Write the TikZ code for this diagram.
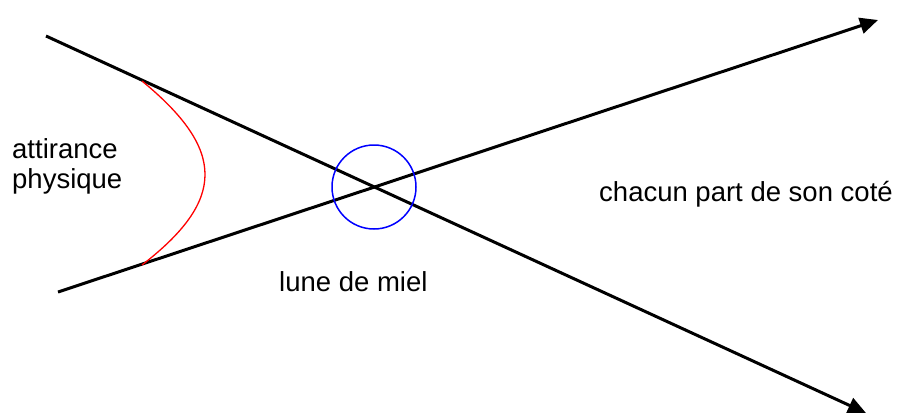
\documentclass[tikz,border=0pt]{standalone}
\usepackage{fontspec}
\setmainfont{Liberation Sans}
\usetikzlibrary{arrows.meta}
\newcommand{\pLabelFont}{\fontsize{27.5}{30}\selectfont}

\begin{document}
\begin{tikzpicture}[x=1pt,y=-1pt,
  pathline/.style={line width=3pt},
  pathlabel/.style={anchor=base west, inner sep=0pt, font=\pLabelFont}]
\useasboundingbox (0,0) rectangle (901,412);
\coordinate (herStart) at (46,36);
\coordinate (herEnd) at (866,413);
\coordinate (hisStart) at (58,292);
\coordinate (hisEnd) at (878,20);
\coordinate (pullTop) at (142,81);
\coordinate (pullBottom) at (142,265);
\draw[pathline, -{Triangle[length=18pt,width=16pt]}] (herStart) -- (herEnd);
\draw[pathline, -{Triangle[length=18pt,width=16pt]}] (hisStart) -- (hisEnd);
\draw[red, line width=1.3pt] (pullTop) .. controls (226,150) and (226,200) .. (pullBottom);
\node[draw=blue, line width=1.5pt, circle, minimum size=84pt, inner sep=0pt] (honeymoon) at (374,187) {};
\node[pathlabel] (attraction) at (12,158) {attirance};
\node[pathlabel] (physical) at (12,188) {physique};
\node[pathlabel] (moonLabel) at (279,291) {lune de miel};
\node[pathlabel] (apartLabel) at (599,201) {chacun part de son coté};
\end{tikzpicture}
\end{document}
